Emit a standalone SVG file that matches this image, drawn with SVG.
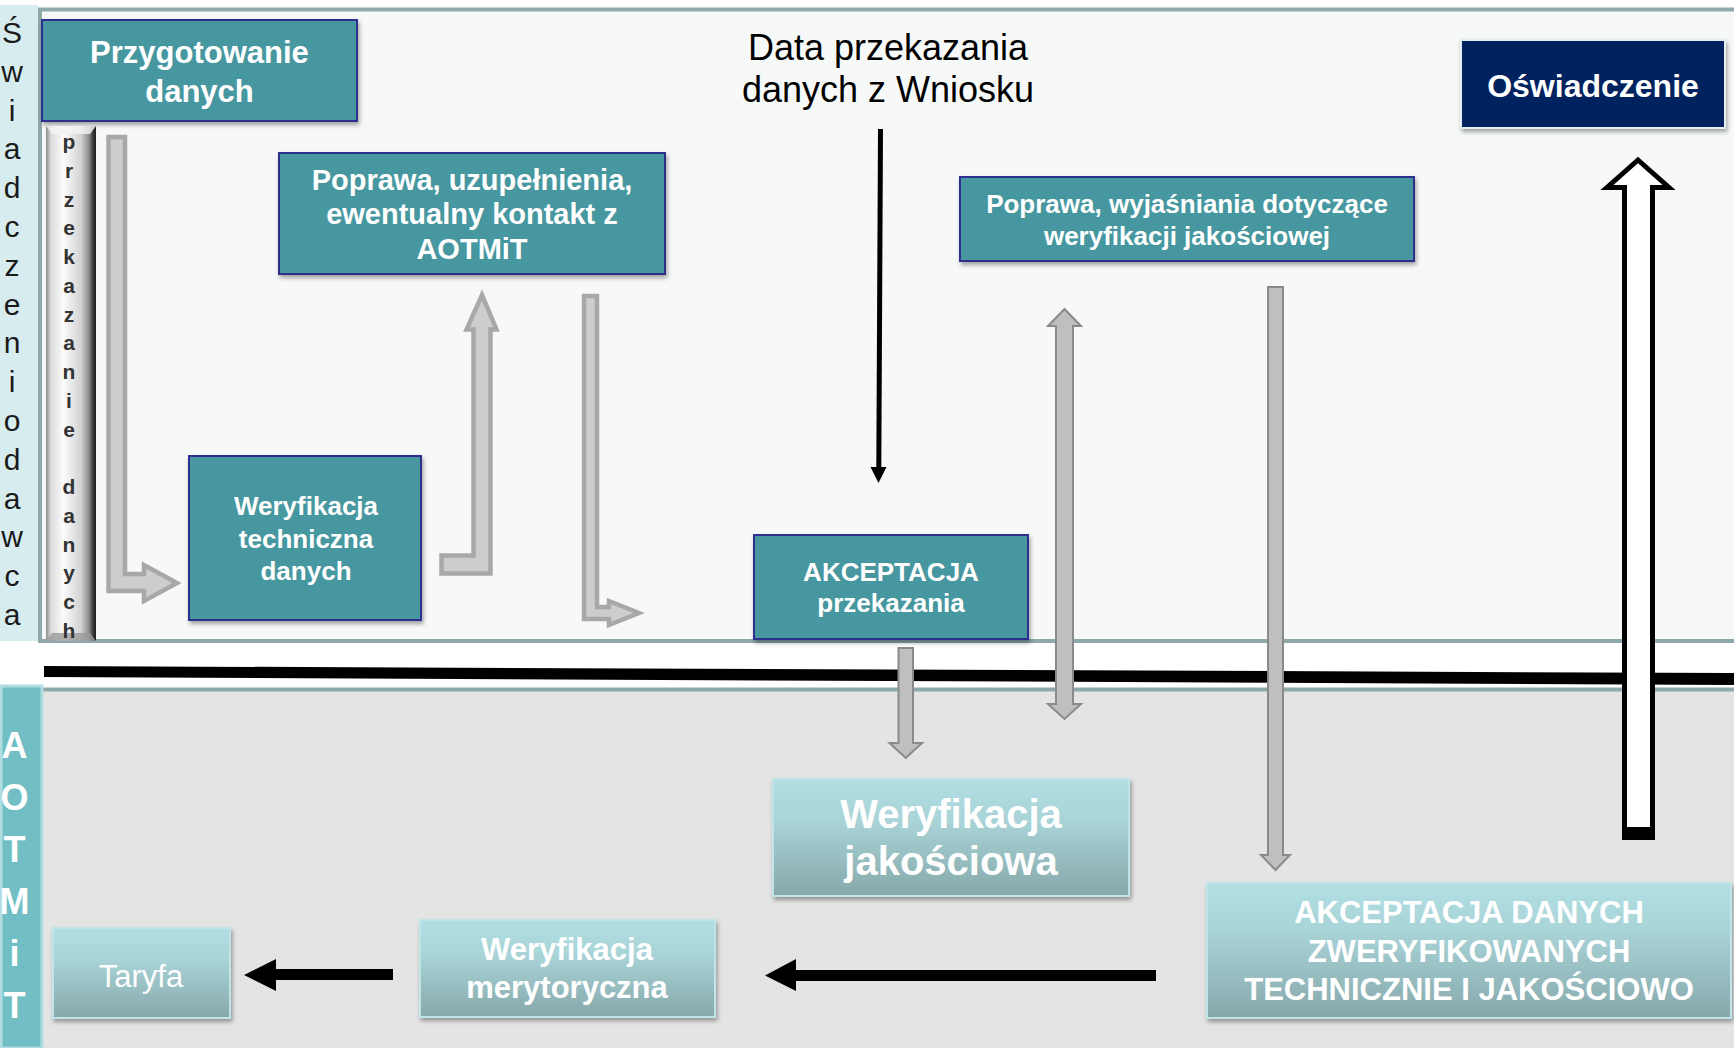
<svg xmlns="http://www.w3.org/2000/svg" width="1734" height="1048" viewBox="0 0 1734 1048">
  <defs>
    <style>
      .t { font-family: "Liberation Sans", Arial, sans-serif; }
      .lbl { font-family: "Liberation Sans", Arial, sans-serif; fill: #ffffff; font-weight: bold; text-anchor: middle; }
      .teal { fill: #4797a0; stroke: #2d2f8f; stroke-width: 2; }
      .light { fill: url(#gLight); stroke: #bfe5e8; stroke-width: 2; }
      .garrow { fill: #bfbfbf; stroke: #8a8a8a; stroke-width: 2; }
      .larrow { fill: #cdcdcd; stroke: #a8a8a8; stroke-width: 4.5; stroke-linejoin: miter; }
      .blk { fill: #000000; }
    </style>
    <linearGradient id="gLight" x1="0" y1="0" x2="0" y2="1">
      <stop offset="0" stop-color="#b1dfe3"/>
      <stop offset="0.35" stop-color="#a9d4d8"/>
      <stop offset="1" stop-color="#86a8aa"/>
    </linearGradient>
    <linearGradient id="gBar" x1="0" y1="0" x2="1" y2="0">
      <stop offset="0" stop-color="#8c8c8c"/>
      <stop offset="0.1" stop-color="#dcdcdc"/>
      <stop offset="0.35" stop-color="#fbfbfb"/>
      <stop offset="0.7" stop-color="#d2d2d2"/>
      <stop offset="0.86" stop-color="#8a8a8a"/>
      <stop offset="0.94" stop-color="#3a3a3a"/>
      <stop offset="1" stop-color="#1e1e1e"/>
    </linearGradient>
    <filter id="sh" x="-10%" y="-10%" width="125%" height="135%">
      <feDropShadow dx="1.5" dy="3" stdDeviation="2" flood-color="#000" flood-opacity="0.35"/>
    </filter>
  </defs>

  <!-- background / lanes -->
  <rect x="0" y="0" width="1734" height="1048" fill="#ffffff"/>
  <g id="lane-top">
    <rect x="40" y="9.5" width="1700" height="631.5" fill="#f7f9f9" stroke="#8ea9aa" stroke-width="4"/>
    <rect x="0" y="5" width="38" height="636" fill="#d6ecef"/>
    <text class="t" font-size="30" fill="#1a1a1a" text-anchor="middle"><tspan x="12" y="43">Ś</tspan><tspan x="12" y="81.8">w</tspan><tspan x="12" y="120.6">i</tspan><tspan x="12" y="159.4">a</tspan><tspan x="12" y="198.2">d</tspan><tspan x="12" y="237">c</tspan><tspan x="12" y="275.8">z</tspan><tspan x="12" y="314.6">e</tspan><tspan x="12" y="353.4">n</tspan><tspan x="12" y="392.2">i</tspan><tspan x="12" y="431">o</tspan><tspan x="12" y="469.8">d</tspan><tspan x="12" y="508.6">a</tspan><tspan x="12" y="547.4">w</tspan><tspan x="12" y="586.2">c</tspan><tspan x="12" y="625">a</tspan></text>
  </g>
  <g id="lane-bottom">
    <rect x="42" y="690" width="1692" height="358" fill="#e4e4e4"/>
    <rect x="42" y="687.5" width="1692" height="4" fill="#8ea9aa"/>
    <rect x="1" y="686" width="41" height="362" fill="#71bec4" stroke="#b2dde0" stroke-width="3"/>
    <text class="lbl" font-size="36"><tspan x="14.5" y="758">A</tspan><tspan x="14.5" y="810">O</tspan><tspan x="14.5" y="862">T</tspan><tspan x="14.5" y="914">M</tspan><tspan x="14.5" y="966">i</tspan><tspan x="14.5" y="1018">T</tspan></text>
  </g>
  <g id="separator">
    <polygon points="44,666 1734,673 1734,685 44,677" fill="#000000"/>
  </g>

  <!-- connectors -->
  <g id="connectors">
    <path class="larrow" d="M108.5,137 L125,137 L125,574 L144,574 L144,565 L177,583 L144,601 L144,591 L108.5,591 Z"/>
    <path class="larrow" d="M441.5,555.5 L473.5,555.5 L473.5,329.5 L466.5,329.5 L482,295 L496.5,329.5 L490.5,329.5 L490.5,573.5 L441.5,573.5 Z"/>
    <path class="larrow" stroke-width="4" d="M584,296 L597,296 L597,607 L609,607 L609,601 L639,613 L609,625 L609,619 L584,619 Z"/>
    <path d="M880.5,129 L878.8,468" stroke="#000" stroke-width="5" fill="none"/>
    <polygon class="blk" points="870.5,467 886.5,467 878.5,483"/>
    <path class="garrow" d="M1064.5,309 L1081,326 L1073,326 L1073,704 L1081,704 L1064.5,719 L1048,704 L1056,704 L1056,326 L1048,326 Z"/>
    <path class="garrow" d="M1268,287 L1283,287 L1283,855 L1290,855 L1275.5,870 L1261,855 L1268,855 Z"/>
    <path class="garrow" d="M898.5,648 L913,648 L913,743 L922,743 L905.75,758 L889.5,743 L898.5,743 Z"/>
    <path d="M1638,160 L1669,187.5 L1652.5,187.5 L1652.5,830 L1624.5,830 L1624.5,187.5 L1607,187.5 Z" fill="#ffffff" stroke="#000000" stroke-width="5" stroke-linejoin="miter"/>
    <rect x="1622" y="827" width="33" height="13" fill="#000000"/>
    <path class="blk" d="M1156,970 L796,970 L796,959 L765,975.5 L796,991 L796,981 L1156,981 Z"/>
    <path class="blk" d="M393,969 L276,969 L276,959 L244,975 L276,991 L276,980 L393,980 Z"/>
  </g>

  <!-- nodes -->
  <g id="node-przygotowanie">
    <rect class="teal" x="42" y="20" width="315" height="101" filter="url(#sh)"/>
    <text class="lbl" font-size="31"><tspan x="199.5" y="63">Przygotowanie</tspan><tspan x="199.5" y="102">danych</tspan></text>
  </g>

  <g id="node-przekazanie">
    <rect x="46" y="126" width="50" height="515" fill="url(#gBar)"/>
    <polygon points="46,126 96,126 90,134 52,134" fill="#f4f4f4" opacity="0.8"/>
    <polygon points="52,633 90,633 96,641 46,641" fill="#9a9a9a" opacity="0.8"/>
    <text class="t" font-size="21" font-weight="bold" fill="#333333" text-anchor="middle"><tspan x="69" y="149">p</tspan><tspan x="69" y="177.75">r</tspan><tspan x="69" y="206.5">z</tspan><tspan x="69" y="235.25">e</tspan><tspan x="69" y="264">k</tspan><tspan x="69" y="292.75">a</tspan><tspan x="69" y="321.5">z</tspan><tspan x="69" y="350.25">a</tspan><tspan x="69" y="379">n</tspan><tspan x="69" y="407.75">i</tspan><tspan x="69" y="436.5">e</tspan><tspan x="69" y="494">d</tspan><tspan x="69" y="522.75">a</tspan><tspan x="69" y="551.5">n</tspan><tspan x="69" y="580.25">y</tspan><tspan x="69" y="609">c</tspan><tspan x="69" y="637.75">h</tspan></text>
  </g>

  <g id="node-weryfikacja-techniczna">
    <rect class="teal" x="189" y="456" width="232" height="164" filter="url(#sh)"/>
    <text class="lbl" font-size="26"><tspan x="306" y="515">Weryfikacja</tspan><tspan x="306" y="548">techniczna</tspan><tspan x="306" y="580">danych</tspan></text>
  </g>

  <g id="node-poprawa-uzupelnienia">
    <rect class="teal" x="279" y="153" width="386" height="121" filter="url(#sh)"/>
    <text class="lbl" font-size="29"><tspan x="472" y="190">Poprawa, uzupełnienia,</tspan><tspan x="472" y="224">ewentualny kontakt z</tspan><tspan x="472" y="259">AOTMiT</tspan></text>
  </g>

  <g id="node-data">
    <text class="t" font-size="36" fill="#000000" text-anchor="middle"><tspan x="888" y="60">Data przekazania</tspan><tspan x="888" y="102">danych z Wniosku</tspan></text>
  </g>

  <g id="node-akceptacja-przekazania">
    <rect class="teal" x="754" y="535" width="274" height="104" filter="url(#sh)"/>
    <text class="lbl" font-size="26"><tspan x="891" y="581">AKCEPTACJA</tspan><tspan x="891" y="612">przekazania</tspan></text>
  </g>

  <g id="node-poprawa-wyjasniania">
    <rect class="teal" x="960" y="177" width="454" height="84" filter="url(#sh)"/>
    <text class="lbl" font-size="26"><tspan x="1187" y="213">Poprawa, wyjaśniania dotyczące</tspan><tspan x="1187" y="245">weryfikacji jakościowej</tspan></text>
  </g>

  <g id="node-oswiadczenie">
    <rect x="1461" y="40" width="264" height="88" fill="#04215e" stroke="#e6ecf2" stroke-width="2" filter="url(#sh)"/>
    <text class="lbl" font-size="32" x="1593" y="97">Oświadczenie</text>
  </g>

  <g id="node-weryfikacja-jakosciowa">
    <rect class="light" x="773" y="779" width="356" height="117" filter="url(#sh)"/>
    <text class="lbl" font-size="40"><tspan x="951" y="828">Weryfikacja</tspan><tspan x="951" y="875">jakościowa</tspan></text>
  </g>

  <g id="node-akceptacja-danych">
    <rect class="light" x="1207" y="883" width="524" height="135" filter="url(#sh)"/>
    <text class="lbl" font-size="31"><tspan x="1469" y="923">AKCEPTACJA DANYCH</tspan><tspan x="1469" y="962">ZWERYFIKOWANYCH</tspan><tspan x="1469" y="1000">TECHNICZNIE I JAKOŚCIOWO</tspan></text>
  </g>

  <g id="node-weryfikacja-merytoryczna">
    <rect class="light" x="420" y="920" width="295" height="97" filter="url(#sh)"/>
    <text class="lbl" font-size="31"><tspan x="567" y="960">Weryfikacja</tspan><tspan x="567" y="998">merytoryczna</tspan></text>
  </g>

  <g id="node-taryfa">
    <rect class="light" x="53" y="928" width="177" height="90" filter="url(#sh)"/>
    <text class="t" font-size="31" fill="#ffffff" text-anchor="middle" x="141" y="987">Taryfa</text>
  </g>
</svg>
